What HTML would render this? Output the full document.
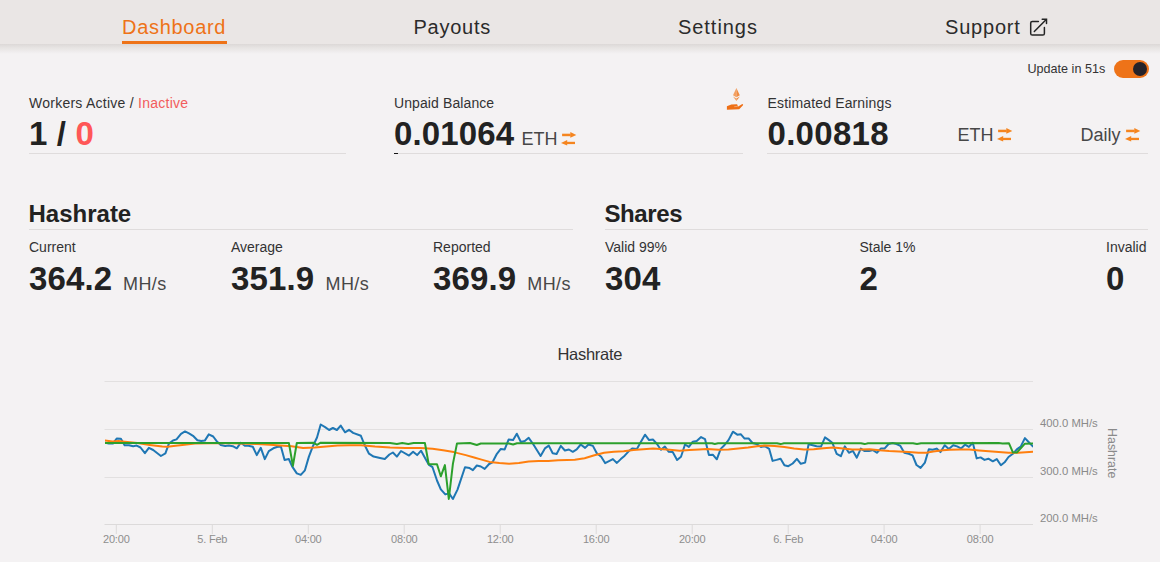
<!DOCTYPE html>
<html><head><meta charset="utf-8"><style>
html,body{margin:0;padding:0;}
body{width:1160px;height:562px;overflow:hidden;background:#f4f2f3;position:relative;font-family:"Liberation Sans",sans-serif;}
.t{position:absolute;white-space:nowrap;}
.ic{position:absolute;}
.nav{position:absolute;left:0;top:0;width:1160px;height:44px;background:#eae6e5;}
.shadow{position:absolute;left:0;top:44px;width:1160px;height:10px;background:linear-gradient(#dcd8d7,#e6e3e2 35%,#f4f2f3);}
.hl{position:absolute;height:1px;background:#dfdcdc;}
</style></head><body>
<div class="nav"></div>
<div class="shadow"></div>
<div style="position:absolute;left:122px;top:41px;width:105px;height:3px;background:#ee7318"></div>
<svg class="ic" style="left:1029px;top:18px" width="20" height="19" viewBox="0 0 20 19"><g fill="none" stroke="#242424" stroke-width="1.5" stroke-linecap="round"><path d="M9.4 3.4 H3.3 Q1.7 3.4 1.7 5 V15.5 Q1.7 17.1 3.3 17.1 H13.8 Q15.4 17.1 15.4 15.5 V9.6"/><path d="M5.3 13.5 L17 1.8"/><path d="M13.2 1.3 H17.5 V5.6"/></g></svg>
<div style="position:absolute;left:1114px;top:60px;width:35px;height:18px;border-radius:9px;background:#ee7318"></div>
<div style="position:absolute;left:1132.5px;top:62px;width:14px;height:14px;border-radius:7px;background:#26232a"></div>
<div class="hl" style="left:29px;top:153px;width:317px"></div>
<div class="hl" style="left:394px;top:153px;width:349px"></div>
<div style="position:absolute;left:394px;top:153px;width:4px;height:1px;background:#151515"></div>
<div class="hl" style="left:767px;top:153px;width:381px"></div>
<div class="hl" style="left:29px;top:229px;width:544px"></div>
<div class="hl" style="left:605px;top:229px;width:543px"></div>
<svg class="ic" style="left:560.8px;top:131.5px" width="16" height="14" viewBox="0 0 16 14"><g fill="#f5851f"><rect x="1.1" y="1.7" width="8.6" height="2.5"/><path d="M9.3 0 L15.3 2.9 L9.3 5.7Z"/><rect x="5.8" y="9.8" width="8.2" height="2.3"/><path d="M0 10.9 L6.2 8 L6.2 13.6Z"/></g></svg>
<svg class="ic" style="left:996.8px;top:127.6px" width="16" height="14" viewBox="0 0 16 14"><g fill="#f5851f"><rect x="1.1" y="1.7" width="8.6" height="2.5"/><path d="M9.3 0 L15.3 2.9 L9.3 5.7Z"/><rect x="5.8" y="9.8" width="8.2" height="2.3"/><path d="M0 10.9 L6.2 8 L6.2 13.6Z"/></g></svg>
<svg class="ic" style="left:1124.8px;top:127.6px" width="16" height="14" viewBox="0 0 16 14"><g fill="#f5851f"><rect x="1.1" y="1.7" width="8.6" height="2.5"/><path d="M9.3 0 L15.3 2.9 L9.3 5.7Z"/><rect x="5.8" y="9.8" width="8.2" height="2.3"/><path d="M0 10.9 L6.2 8 L6.2 13.6Z"/></g></svg>
<svg class="ic" style="left:0;top:0" width="1160" height="562"><line x1="104.5" x2="1033" y1="381.5" y2="381.5" stroke="#e2e0e0" stroke-width="1"/><line x1="104.5" x2="1033" y1="429.5" y2="429.5" stroke="#e2e0e0" stroke-width="1"/><line x1="104.5" x2="1033" y1="477.5" y2="477.5" stroke="#e2e0e0" stroke-width="1"/><line x1="104.5" x2="1033" y1="524.5" y2="524.5" stroke="#dcdada" stroke-width="1"/><line x1="116.3" x2="116.3" y1="525" y2="534" stroke="#dcdada" stroke-width="1"/><line x1="212.3" x2="212.3" y1="525" y2="534" stroke="#dcdada" stroke-width="1"/><line x1="308.3" x2="308.3" y1="525" y2="534" stroke="#dcdada" stroke-width="1"/><line x1="404.2" x2="404.2" y1="525" y2="534" stroke="#dcdada" stroke-width="1"/><line x1="500.2" x2="500.2" y1="525" y2="534" stroke="#dcdada" stroke-width="1"/><line x1="596.2" x2="596.2" y1="525" y2="534" stroke="#dcdada" stroke-width="1"/><line x1="692.2" x2="692.2" y1="525" y2="534" stroke="#dcdada" stroke-width="1"/><line x1="788.2" x2="788.2" y1="525" y2="534" stroke="#dcdada" stroke-width="1"/><line x1="884.1" x2="884.1" y1="525" y2="534" stroke="#dcdada" stroke-width="1"/><line x1="980.1" x2="980.1" y1="525" y2="534" stroke="#dcdada" stroke-width="1"/><defs><clipPath id="pc"><rect x="105" y="370" width="928" height="160"/></clipPath></defs><g clip-path="url(#pc)"><polyline fill="none" stroke="#1f77b4" stroke-width="2" stroke-linejoin="round" stroke-linecap="round" points="105.1,442.7 108.9,443.4 112.9,443.6 116.7,438.5 120.9,438.8 124.6,445.2 129.0,445.2 133.2,446.2 136.7,445.6 140.5,447.5 144.9,453.2 148.9,447.8 153.2,450.0 160.9,456.0 165.4,453.4 168.9,443.6 173.0,440.5 176.5,439.4 181.0,433.8 185.0,431.4 189.0,433.3 193.0,435.8 197.4,440.3 201.2,441.1 204.8,440.6 208.8,434.4 213.2,436.5 217.2,441.8 220.8,445.1 225.2,446.0 228.8,445.6 232.8,446.2 236.8,448.3 240.8,442.7 244.8,445.8 248.4,445.8 252.8,446.7 256.8,455.1 260.8,447.8 264.8,459.1 268.8,451.1 273.3,448.3 276.8,447.0 280.9,446.5 284.6,460.0 288.8,459.0 292.1,466.4 296.8,473.4 300.8,474.9 304.9,470.3 308.9,456.6 312.9,446.2 317.0,437.5 320.7,424.5 325.1,427.1 329.1,430.0 332.9,428.0 336.9,430.0 340.7,425.6 345.0,432.3 349.0,429.8 353.1,432.9 360.9,435.8 364.4,444.5 369.0,453.7 373.6,456.6 380.0,458.0 384.8,459.0 389.4,454.5 392.9,452.5 396.9,456.6 401.0,451.0 409.0,455.6 413.1,451.8 417.1,455.1 421.1,450.7 424.9,457.8 428.7,464.6 432.5,467.2 437.0,480.5 440.8,489.3 445.3,494.4 449.1,493.4 452.9,499.0 457.5,489.6 465.0,467.2 469.6,468.1 472.9,470.1 476.8,465.5 480.8,466.5 484.7,468.9 489.1,464.0 492.5,462.3 496.9,453.8 500.8,448.9 504.7,449.4 508.6,439.6 513.1,440.1 516.8,433.7 520.9,442.0 524.8,441.0 528.7,437.8 533.1,444.0 537.0,450.3 540.6,456.0 544.9,448.4 548.8,445.6 552.7,453.3 556.6,454.0 560.8,445.9 564.9,450.5 568.9,449.5 572.8,451.8 576.7,449.4 580.7,444.5 585.1,447.9 588.5,444.5 592.9,445.9 596.8,453.3 601.2,456.7 605.1,463.1 609.0,461.1 612.9,459.1 616.9,462.9 620.8,459.1 624.7,455.7 628.6,451.3 632.5,448.4 636.9,448.9 640.8,442.0 645.0,434.7 649.1,440.1 653.1,439.6 657.0,444.0 660.9,449.8 664.9,446.6 668.8,451.8 672.7,452.1 677.1,459.9 681.0,456.7 685.0,444.5 688.9,446.9 692.8,441.7 696.7,441.0 701.1,437.1 705.0,439.1 708.9,455.0 712.8,454.7 716.8,459.3 720.7,448.9 724.6,445.0 728.5,440.1 732.9,431.7 737.3,434.7 740.7,434.2 744.6,438.6 748.6,438.4 752.5,443.0 756.4,444.0 760.9,446.9 764.8,446.2 769.2,448.9 772.6,460.9 776.5,459.9 780.6,458.7 784.4,465.2 788.3,466.2 792.7,463.5 796.9,458.9 800.8,463.8 805.1,462.6 808.6,444.3 812.7,445.2 816.6,446.2 821.0,446.6 825.0,437.4 828.9,440.1 832.3,442.7 836.7,453.8 840.9,456.2 844.8,446.4 848.9,452.8 852.8,450.8 856.8,457.7 860.8,448.6 864.7,451.1 869.1,451.1 873.0,450.1 876.9,452.8 880.8,448.6 884.7,448.4 888.6,444.0 892.6,443.0 896.5,444.0 900.4,445.9 904.3,452.8 908.7,453.8 912.6,455.4 916.5,465.0 920.6,467.9 924.9,462.6 928.8,449.2 932.7,449.8 936.6,448.6 940.5,452.1 944.7,445.2 948.8,448.9 953.2,445.2 957.1,446.4 961.0,448.4 965.0,444.7 968.9,446.9 972.8,442.7 976.7,458.4 980.6,457.4 984.5,459.9 988.4,458.7 992.8,461.3 996.8,459.1 1000.9,465.2 1004.6,462.3 1008.5,457.0 1012.9,453.8 1016.8,449.4 1020.7,446.6 1024.9,438.1 1028.6,442.0 1032.8,446.4"/><polyline fill="none" stroke="#ff7f0e" stroke-width="2" stroke-linejoin="round" stroke-linecap="round" points="105.0,440.6 112.5,441.5 118.7,441.1 124.9,441.7 137.4,443.1 149.8,444.9 162.3,446.5 167.6,446.7 175.6,445.8 184.5,444.7 195.0,443.6 210.0,443.2 230.0,443.2 257.0,444.0 270.0,444.8 284.0,445.8 291.6,446.3 303.1,448.0 314.7,447.6 326.2,446.4 337.8,445.6 349.4,445.3 360.9,445.2 375.0,446.5 390.1,447.5 405.3,448.0 420.4,448.0 432.5,448.7 443.1,450.3 453.7,452.1 465.8,455.1 475.0,457.8 479.8,459.1 489.6,461.9 499.4,463.1 509.1,463.8 518.9,463.1 528.7,461.6 538.5,460.9 548.3,460.9 558.1,460.3 567.0,459.9 574.8,459.8 584.6,458.2 594.4,455.2 604.1,452.8 613.9,451.8 623.7,451.3 633.5,450.1 643.3,449.2 653.1,448.6 660.0,448.9 669.8,449.8 679.6,450.8 689.4,450.1 699.1,449.4 707.0,448.9 718.7,449.8 728.5,449.4 738.3,448.4 748.1,447.4 757.0,446.2 764.8,445.6 774.6,445.9 784.4,446.9 794.1,448.4 803.9,449.4 813.7,449.2 823.5,448.2 833.3,447.6 843.1,448.4 852.0,449.4 859.8,449.4 869.6,449.2 879.4,450.3 889.1,451.1 898.9,451.5 908.7,452.1 918.5,452.8 926.3,452.8 933.2,451.5 943.0,450.3 949.8,449.8 959.6,449.5 969.4,449.5 979.1,450.5 988.9,451.3 998.7,452.1 1008.5,452.8 1018.3,452.8 1032.8,451.8"/><polyline fill="none" stroke="#2ca02c" stroke-width="2" stroke-linejoin="round" stroke-linecap="round" points="105.0,443.1 288.9,443.0 292.9,465.9 296.8,443.0 313.5,442.7 317.0,444.8 320.7,442.7 390.1,443.0 396.9,443.9 402.2,443.0 408.3,443.9 413.6,443.0 424.9,443.0 428.7,464.2 437.0,464.2 440.8,476.3 444.9,465.1 448.8,499.0 452.9,463.9 457.0,443.4 470.0,443.0 476.8,445.0 480.8,443.5 509.1,443.5 513.1,444.5 517.0,443.3 712.0,443.3 714.8,443.9 718.0,443.3 777.0,443.3 780.6,444.1 784.0,443.3 861.0,443.3 864.7,444.1 868.0,443.3 913.0,443.3 917.0,444.1 921.0,443.3 998.7,443.1 1002.6,443.5 1009.0,443.3 1012.9,452.3 1016.8,452.5 1020.7,448.4 1024.9,443.7 1032.8,443.5"/></g>
<path fill="#f3a061" d="M736.4 87.9 L733 95.2 L736.4 97.3Z"/><path fill="#ef8c42" d="M736.4 87.9 L739.8 95.2 L736.4 97.3Z"/><path fill="#f3a061" d="M733 96.4 L736.4 98.5 L736.4 100.9Z"/><path fill="#ef8c42" d="M739.8 96.4 L736.4 98.5 L736.4 100.9Z"/>
<path fill="#ee6f15" d="M726.9 106.2 L731.3 104.5 L737 104.3 Q738.2 105.2 737.4 106.3 L738.2 106.5 L742.3 103.9 Q743.6 104.3 743 105.3 L739.2 109.2 L726.9 109.8Z"/>
<path d="M734.2 106.7 L737.4 106.4" stroke="#f3b48a" stroke-width="0.7"/>
</svg>
<div class="t" style="left:122px;top:16.88px;font-size:20px;line-height:20px;font-weight:normal;color:#ee7318;letter-spacing:0.7px;">Dashboard</div><div class="t" style="left:413.5px;top:16.88px;font-size:20px;line-height:20px;font-weight:normal;color:#2b2b2b;letter-spacing:0.75px;">Payouts</div><div class="t" style="left:678px;top:16.88px;font-size:20px;line-height:20px;font-weight:normal;color:#2b2b2b;letter-spacing:0.95px;">Settings</div><div class="t" style="left:945px;top:16.88px;font-size:20px;line-height:20px;font-weight:normal;color:#2b2b2b;letter-spacing:0.8px;">Support</div><div class="t" style="left:1027.5px;top:63.34px;font-size:12.6px;line-height:12.6px;font-weight:normal;color:#333;letter-spacing:0px;">Update in 51s</div><div class="t" style="left:29px;top:96.46px;font-size:14px;line-height:14px;font-weight:normal;color:#333;letter-spacing:0.25px;">Workers Active / <span style="color:#f25c5c">Inactive</span></div><div class="t" style="left:394px;top:96.46px;font-size:14px;line-height:14px;font-weight:normal;color:#333;letter-spacing:0.1px;">Unpaid Balance</div><div class="t" style="left:767.5px;top:96.46px;font-size:14px;line-height:14px;font-weight:normal;color:#333;letter-spacing:0.15px;">Estimated Earnings</div><div class="t" style="left:29px;top:117.18px;font-size:33px;line-height:33px;font-weight:bold;color:#222;letter-spacing:0.15px;">1 / <span style="color:#ff5757">0</span></div><div class="t" style="left:394px;top:117.18px;font-size:33px;line-height:33px;font-weight:bold;color:#222;letter-spacing:0.15px;">0.01064</div><div class="t" style="left:521.5px;top:129.87px;font-size:18px;line-height:18px;font-weight:normal;color:#474747;letter-spacing:0px;">ETH</div><div class="t" style="left:767.5px;top:117.18px;font-size:33px;line-height:33px;font-weight:bold;color:#222;letter-spacing:0.3px;">0.00818</div><div class="t" style="left:957.5px;top:125.77px;font-size:18px;line-height:18px;font-weight:normal;color:#474747;letter-spacing:0px;">ETH</div><div class="t" style="left:1080.5px;top:125.77px;font-size:18px;line-height:18px;font-weight:normal;color:#474747;letter-spacing:0px;">Daily</div><div class="t" style="left:28.5px;top:201.60px;font-size:24px;line-height:24px;font-weight:bold;color:#222;letter-spacing:0px;">Hashrate</div><div class="t" style="left:604.5px;top:201.60px;font-size:24px;line-height:24px;font-weight:bold;color:#222;letter-spacing:-0.4px;">Shares</div><div class="t" style="left:29px;top:240.06px;font-size:14px;line-height:14px;font-weight:normal;color:#333;letter-spacing:0px;">Current</div><div class="t" style="left:231px;top:240.06px;font-size:14px;line-height:14px;font-weight:normal;color:#333;letter-spacing:0px;">Average</div><div class="t" style="left:433px;top:240.06px;font-size:14px;line-height:14px;font-weight:normal;color:#333;letter-spacing:0px;">Reported</div><div class="t" style="left:605px;top:240.06px;font-size:14px;line-height:14px;font-weight:normal;color:#333;letter-spacing:0px;">Valid 99%</div><div class="t" style="left:859.5px;top:240.06px;font-size:14px;line-height:14px;font-weight:normal;color:#333;letter-spacing:0px;">Stale 1%</div><div class="t" style="left:1106px;top:240.06px;font-size:14px;line-height:14px;font-weight:normal;color:#333;letter-spacing:0px;">Invalid</div><div class="t" style="left:29px;top:261.88px;font-size:33px;line-height:33px;font-weight:bold;color:#222;letter-spacing:0.15px;">364.2</div><div class="t" style="left:231px;top:261.88px;font-size:33px;line-height:33px;font-weight:bold;color:#222;letter-spacing:0.15px;">351.9</div><div class="t" style="left:433px;top:261.88px;font-size:33px;line-height:33px;font-weight:bold;color:#222;letter-spacing:0.15px;">369.9</div><div class="t" style="left:605px;top:261.88px;font-size:33px;line-height:33px;font-weight:bold;color:#222;letter-spacing:0.15px;">304</div><div class="t" style="left:859.5px;top:261.88px;font-size:33px;line-height:33px;font-weight:bold;color:#222;letter-spacing:0.15px;">2</div><div class="t" style="left:1106px;top:261.88px;font-size:33px;line-height:33px;font-weight:bold;color:#222;letter-spacing:0.15px;">0</div><div class="t" style="left:123px;top:274.57px;font-size:18px;line-height:18px;font-weight:normal;color:#474747;letter-spacing:0.4px;">MH/s</div><div class="t" style="left:325.5px;top:274.57px;font-size:18px;line-height:18px;font-weight:normal;color:#474747;letter-spacing:0.4px;">MH/s</div><div class="t" style="left:527.3px;top:274.57px;font-size:18px;line-height:18px;font-weight:normal;color:#474747;letter-spacing:0.4px;">MH/s</div><div class="t" style="left:557.5px;top:346.14px;font-size:16.5px;line-height:16.5px;font-weight:normal;color:#333;letter-spacing:-0.3px;">Hashrate</div><div class="t" style="left:1040px;top:418.44px;font-size:11.3px;line-height:11.3px;font-weight:normal;color:#8a8a8a;letter-spacing:0px;">400.0 MH/s</div><div class="t" style="left:1040px;top:466.44px;font-size:11.3px;line-height:11.3px;font-weight:normal;color:#8a8a8a;letter-spacing:0px;">300.0 MH/s</div><div class="t" style="left:1040px;top:513.44px;font-size:11.3px;line-height:11.3px;font-weight:normal;color:#8a8a8a;letter-spacing:0px;">200.0 MH/s</div><div class="t" style="left:66.30px;width:100px;text-align:center;top:534.49px;font-size:11px;line-height:11px;color:#8e8e8e;letter-spacing:-0.2px">20:00</div><div class="t" style="left:162.28px;width:100px;text-align:center;top:534.49px;font-size:11px;line-height:11px;color:#8e8e8e;letter-spacing:-0.2px">5. Feb</div><div class="t" style="left:258.26px;width:100px;text-align:center;top:534.49px;font-size:11px;line-height:11px;color:#8e8e8e;letter-spacing:-0.2px">04:00</div><div class="t" style="left:354.24px;width:100px;text-align:center;top:534.49px;font-size:11px;line-height:11px;color:#8e8e8e;letter-spacing:-0.2px">08:00</div><div class="t" style="left:450.22px;width:100px;text-align:center;top:534.49px;font-size:11px;line-height:11px;color:#8e8e8e;letter-spacing:-0.2px">12:00</div><div class="t" style="left:546.20px;width:100px;text-align:center;top:534.49px;font-size:11px;line-height:11px;color:#8e8e8e;letter-spacing:-0.2px">16:00</div><div class="t" style="left:642.18px;width:100px;text-align:center;top:534.49px;font-size:11px;line-height:11px;color:#8e8e8e;letter-spacing:-0.2px">20:00</div><div class="t" style="left:738.16px;width:100px;text-align:center;top:534.49px;font-size:11px;line-height:11px;color:#8e8e8e;letter-spacing:-0.2px">6. Feb</div><div class="t" style="left:834.14px;width:100px;text-align:center;top:534.49px;font-size:11px;line-height:11px;color:#8e8e8e;letter-spacing:-0.2px">04:00</div><div class="t" style="left:930.12px;width:100px;text-align:center;top:534.49px;font-size:11px;line-height:11px;color:#8e8e8e;letter-spacing:-0.2px">08:00</div><div class="t" style="left:1072.4px;width:80px;text-align:center;top:446.5px;font-size:12.4px;line-height:12.4px;color:#8a8a8a;transform:rotate(90deg)">Hashrate</div>
</body></html>
